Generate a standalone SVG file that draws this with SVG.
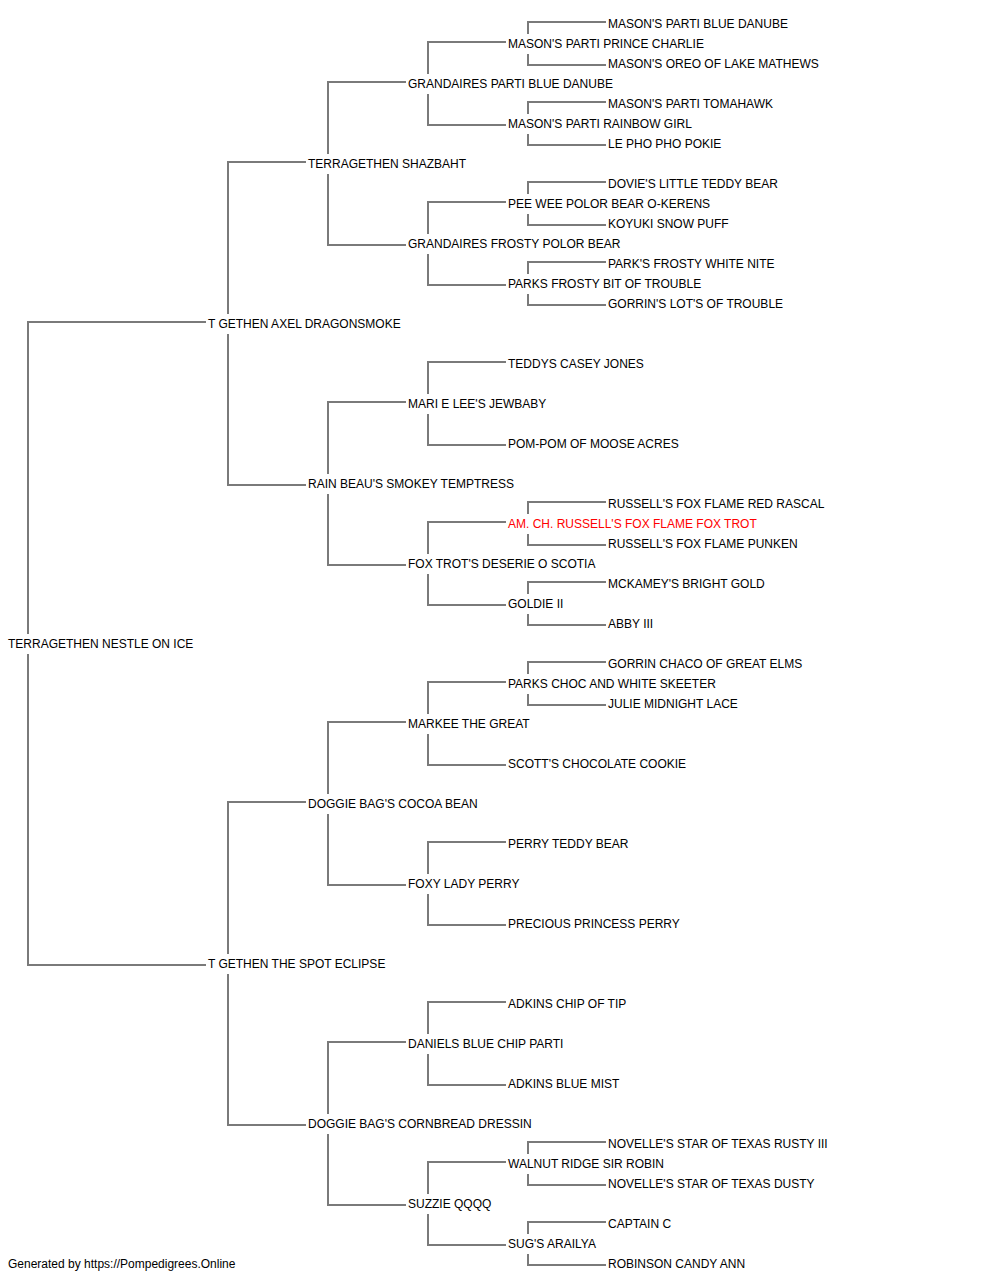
<svg xmlns="http://www.w3.org/2000/svg" width="1000" height="1280" viewBox="0 0 1000 1280">
<style>
text{font-family:"Liberation Sans",Arial,sans-serif;font-size:12px;fill:#000}
text.hl{fill:#ff0000}
.c path{fill:none;stroke:#7a7a7a;stroke-width:2}
</style>
<rect width="1000" height="1280" fill="#fff"/>
<g class="c" id="connectors">
<path d="M28 634V322H206M28 654V965H206"/>
<path d="M228 314V162H306M228 334V485H306"/>
<path d="M228 954V802H306M228 974V1125H306"/>
<path d="M328 154V82H406M328 174V245H406"/>
<path d="M328 474V402H406M328 494V565H406"/>
<path d="M328 794V722H406M328 814V885H406"/>
<path d="M328 1114V1042H406M328 1134V1205H406"/>
<path d="M428 74V42H506M428 94V125H506"/>
<path d="M428 234V202H506M428 254V285H506"/>
<path d="M428 394V362H506M428 414V445H506"/>
<path d="M428 554V522H506M428 574V605H506"/>
<path d="M428 714V682H506M428 734V765H506"/>
<path d="M428 874V842H506M428 894V925H506"/>
<path d="M428 1034V1002H506M428 1054V1085H506"/>
<path d="M428 1194V1162H506M428 1214V1245H506"/>
<path d="M528 34V22H606M528 54V65H606"/>
<path d="M528 114V102H606M528 134V145H606"/>
<path d="M528 194V182H606M528 214V225H606"/>
<path d="M528 274V262H606M528 294V305H606"/>
<path d="M528 514V502H606M528 534V545H606"/>
<path d="M528 594V582H606M528 614V625H606"/>
<path d="M528 674V662H606M528 694V705H606"/>
<path d="M528 1154V1142H606M528 1174V1185H606"/>
<path d="M528 1234V1222H606M528 1254V1265H606"/>
</g>
<g id="n-root"><text x="8" y="648">TERRAGETHEN NESTLE ON ICE</text></g>
<g id="n-s"><text x="208" y="328">T GETHEN AXEL DRAGONSMOKE</text></g>
<g id="n-d"><text x="208" y="968">T GETHEN THE SPOT ECLIPSE</text></g>
<g id="n-ss"><text x="308" y="168">TERRAGETHEN SHAZBAHT</text></g>
<g id="n-sd"><text x="308" y="488">RAIN BEAU'S SMOKEY TEMPTRESS</text></g>
<g id="n-ds"><text x="308" y="808">DOGGIE BAG'S COCOA BEAN</text></g>
<g id="n-dd"><text x="308" y="1128">DOGGIE BAG'S CORNBREAD DRESSIN</text></g>
<g id="n-sss"><text x="408" y="88">GRANDAIRES PARTI BLUE DANUBE</text></g>
<g id="n-ssd"><text x="408" y="248">GRANDAIRES FROSTY POLOR BEAR</text></g>
<g id="n-sds"><text x="408" y="408">MARI E LEE'S JEWBABY</text></g>
<g id="n-sdd"><text x="408" y="568">FOX TROT'S DESERIE O SCOTIA</text></g>
<g id="n-dss"><text x="408" y="728">MARKEE THE GREAT</text></g>
<g id="n-dsd"><text x="408" y="888">FOXY LADY PERRY</text></g>
<g id="n-dds"><text x="408" y="1048">DANIELS BLUE CHIP PARTI</text></g>
<g id="n-ddd"><text x="408" y="1208">SUZZIE QQQQ</text></g>
<g id="n-g4-1"><text x="508" y="48">MASON'S PARTI PRINCE CHARLIE</text></g>
<g id="n-g4-2"><text x="508" y="128">MASON'S PARTI RAINBOW GIRL</text></g>
<g id="n-g4-3"><text x="508" y="208">PEE WEE POLOR BEAR O-KERENS</text></g>
<g id="n-g4-4"><text x="508" y="288">PARKS FROSTY BIT OF TROUBLE</text></g>
<g id="n-g4-5"><text x="508" y="368">TEDDYS CASEY JONES</text></g>
<g id="n-g4-6"><text x="508" y="448">POM-POM OF MOOSE ACRES</text></g>
<g id="n-g4-7"><text x="508" y="528" class="hl">AM. CH. RUSSELL'S FOX FLAME FOX TROT</text></g>
<g id="n-g4-8"><text x="508" y="608">GOLDIE II</text></g>
<g id="n-g4-9"><text x="508" y="688">PARKS CHOC AND WHITE SKEETER</text></g>
<g id="n-g4-10"><text x="508" y="768">SCOTT'S CHOCOLATE COOKIE</text></g>
<g id="n-g4-11"><text x="508" y="848">PERRY TEDDY BEAR</text></g>
<g id="n-g4-12"><text x="508" y="928">PRECIOUS PRINCESS PERRY</text></g>
<g id="n-g4-13"><text x="508" y="1008">ADKINS CHIP OF TIP</text></g>
<g id="n-g4-14"><text x="508" y="1088">ADKINS BLUE MIST</text></g>
<g id="n-g4-15"><text x="508" y="1168">WALNUT RIDGE SIR ROBIN</text></g>
<g id="n-g4-16"><text x="508" y="1248">SUG'S ARAILYA</text></g>
<g id="n-g5-1"><text x="608" y="28">MASON'S PARTI BLUE DANUBE</text></g>
<g id="n-g5-2"><text x="608" y="68">MASON'S OREO OF LAKE MATHEWS</text></g>
<g id="n-g5-3"><text x="608" y="108">MASON'S PARTI TOMAHAWK</text></g>
<g id="n-g5-4"><text x="608" y="148">LE PHO PHO POKIE</text></g>
<g id="n-g5-5"><text x="608" y="188">DOVIE'S LITTLE TEDDY BEAR</text></g>
<g id="n-g5-6"><text x="608" y="228">KOYUKI SNOW PUFF</text></g>
<g id="n-g5-7"><text x="608" y="268">PARK'S FROSTY WHITE NITE</text></g>
<g id="n-g5-8"><text x="608" y="308">GORRIN'S LOT'S OF TROUBLE</text></g>
<g id="n-g5-9"><text x="608" y="508">RUSSELL'S FOX FLAME RED RASCAL</text></g>
<g id="n-g5-10"><text x="608" y="548">RUSSELL'S FOX FLAME PUNKEN</text></g>
<g id="n-g5-11"><text x="608" y="588">MCKAMEY'S BRIGHT GOLD</text></g>
<g id="n-g5-12"><text x="608" y="628">ABBY III</text></g>
<g id="n-g5-13"><text x="608" y="668">GORRIN CHACO OF GREAT ELMS</text></g>
<g id="n-g5-14"><text x="608" y="708">JULIE MIDNIGHT LACE</text></g>
<g id="n-g5-15"><text x="608" y="1148">NOVELLE'S STAR OF TEXAS RUSTY III</text></g>
<g id="n-g5-16"><text x="608" y="1188">NOVELLE'S STAR OF TEXAS DUSTY</text></g>
<g id="n-g5-17"><text x="608" y="1228">CAPTAIN C</text></g>
<g id="n-g5-18"><text x="608" y="1268">ROBINSON CANDY ANN</text></g>
<g id="footer"><text x="8" y="1268">Generated by https://Pompedigrees.Online</text></g>
</svg>
